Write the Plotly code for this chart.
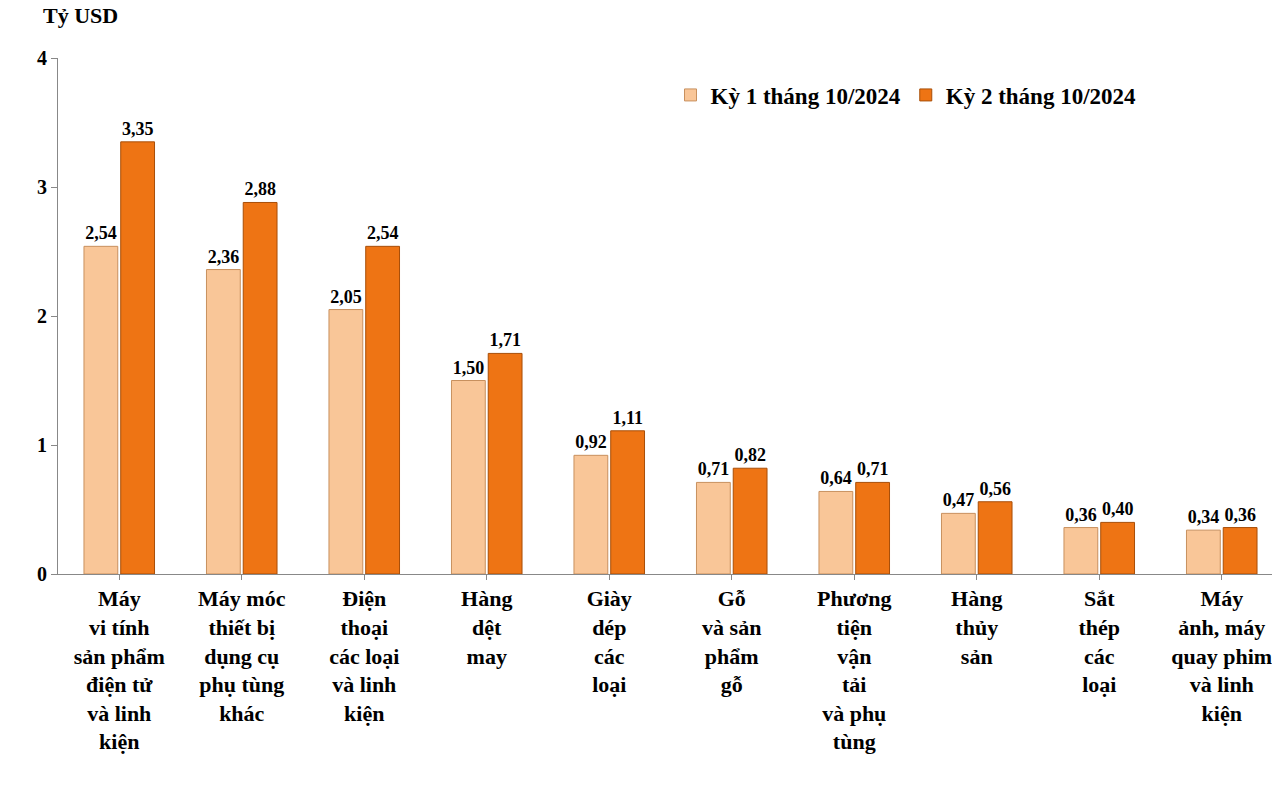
import plotly.graph_objects as go

categories = ["Máy<br>vi tính<br>sản phẩm<br>điện tử<br>và linh<br>kiện",
              "Máy móc<br>thiết bị<br>dụng cụ<br>phụ tùng<br>khác",
              "Điện<br>thoại<br>các loại<br>và linh<br>kiện",
              "Hàng<br>dệt<br>may",
              "Giày<br>dép<br>các<br>loại",
              "Gỗ<br>và sản<br>phẩm<br>gỗ",
              "Phương<br>tiện<br>vận<br>tải<br>và phụ<br>tùng",
              "Hàng<br>thủy<br>sản",
              "Sắt<br>thép<br>các<br>loại",
              "Máy<br>ảnh, máy<br>quay phim<br>và linh<br>kiện"]
ky1 = [2.54, 2.36, 2.05, 1.50, 0.92, 0.71, 0.64, 0.47, 0.36, 0.34]
ky2 = [3.35, 2.88, 2.54, 1.71, 1.11, 0.82, 0.71, 0.56, 0.40, 0.36]

def fmt(v):
    return "<b>" + f"{v:.2f}".replace(".", ",") + "</b>"

lbl = dict(family="Liberation Serif", size=18, color="black")
fig = go.Figure()
fig.add_bar(x=categories, y=ky1, name="<b>Kỳ 1 tháng 10/2024</b>",
            marker=dict(color="#F9C698", line=dict(color="#C8905E", width=1)),
            text=[fmt(v) for v in ky1], textposition="outside", textfont=lbl, cliponaxis=False)
fig.add_bar(x=categories, y=ky2, name="<b>Kỳ 2 tháng 10/2024</b>",
            marker=dict(color="#EE7414", line=dict(color="#A84E08", width=1)),
            text=[fmt(v) for v in ky2], textposition="outside", textfont=lbl, cliponaxis=False)

fig.update_layout(
    width=1280, height=799, plot_bgcolor="white", paper_bgcolor="white",
    margin=dict(l=50, r=5, t=50, b=233),
    barmode="group", bargap=0.4, bargroupgap=0.08,
    font=dict(family="Liberation Serif", size=20, color="black"),
    legend=dict(orientation="h", x=0.5, y=0.97, xanchor="left", yanchor="top",
                font=dict(family="Liberation Serif", size=23, color="black"),
                bgcolor="rgba(0,0,0,0)", traceorder="normal"),
    annotations=[dict(text="<b>Tỷ USD</b>", x=0, y=1, xref="paper", yref="paper",
                      xshift=-17, yshift=28, xanchor="left", yanchor="bottom",
                      showarrow=False, font=dict(family="Liberation Serif", size=22))],
)
fig.update_yaxes(range=[0, 4], dtick=1, showgrid=False, showline=True, linecolor="#888",
                 ticks="outside", tickcolor="#888", ticklen=6,
                 tickfont=dict(family="Liberation Serif", size=20), tickprefix="<b>", ticksuffix="</b>")
fig.update_xaxes(showline=True, linecolor="#888", ticks="outside", tickcolor="#888",
                 tickfont=dict(family="Liberation Serif", size=22), tickangle=0,
                 tickprefix="<b>", ticksuffix="</b>")
fig.write_html("out.html")
